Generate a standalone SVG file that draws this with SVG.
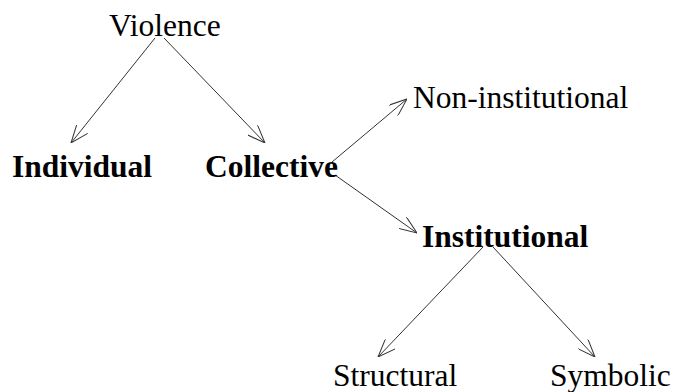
<svg xmlns="http://www.w3.org/2000/svg" width="673" height="392" viewBox="0 0 673 392">
<defs>
<marker id="arr" viewBox="0 0 18 14" refX="18" refY="7" markerWidth="18" markerHeight="14" markerUnits="userSpaceOnUse" orient="auto">
<path d="M0,0 L18,7 L0,14" fill="none" stroke="#333" stroke-width="1"/>
</marker>
</defs>
<style>
text{font-family:"Liberation Serif","Times New Roman",serif;font-size:31.5px;fill:#000}
.b{font-weight:bold}
.c line{stroke:#333;stroke-width:1;marker-end:url(#arr)}
</style>
<rect width="673" height="392" fill="#fff"/>
<g class="c" id="connectors">
<line x1="155" y1="38" x2="71" y2="143"/>
<line x1="164" y1="38" x2="265" y2="143"/>
<line x1="332" y1="162" x2="407" y2="99"/>
<line x1="335" y1="175" x2="417" y2="233"/>
<line x1="483" y1="247" x2="378" y2="357"/>
<line x1="493" y1="247" x2="595" y2="357"/>
</g>
<g id="violence"><text x="109" y="36">Violence</text></g>
<g id="individual"><text class="b" x="12" y="177">Individual</text></g>
<g id="collective"><text class="b" x="205" y="177">Collective</text></g>
<g id="noninstitutional"><text x="413" y="108">Non-institutional</text></g>
<g id="institutional"><text class="b" x="422" y="247">Institutional</text></g>
<g id="structural"><text x="333" y="386">Structural</text></g>
<g id="symbolic"><text x="550" y="386">Symbolic</text></g>
</svg>
